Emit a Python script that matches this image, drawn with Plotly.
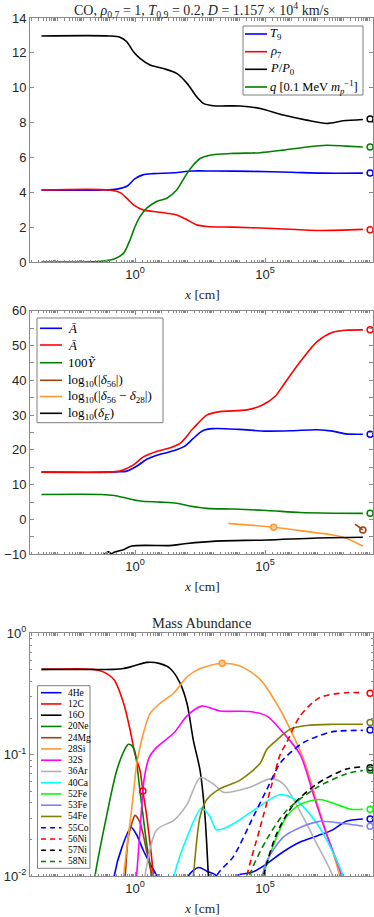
import numpy as np
import plotly.graph_objects as go

W, H = 374, 917
ML, MR = 30, 1

# ---------------- data (x given as log10 of x [cm]) ----------------
# Panel 1
lx_T9 = [-3.6, -1.2, -0.7, -0.3, 0.0, 0.3, 0.7, 1.5, 2.2, 3.0, 4.5, 6.0, 7.2, 8.76]
T9 = [4.13, 4.13, 4.18, 4.36, 4.78, 5.0, 5.07, 5.12, 5.22, 5.22, 5.2, 5.15, 5.1, 5.1]
lx_rho = [-3.6, -1.0, -0.58, -0.32, -0.06, 0.32, 0.71, 1.22, 1.6, 2.0, 2.37, 2.76, 3.78, 5.06, 7.0, 8.76]
rho7 = [4.13, 4.13, 3.98, 3.66, 3.28, 2.99, 2.9, 2.8, 2.7, 2.42, 2.13, 2.04, 2.0, 1.94, 1.81, 1.87]
lx_P = [-3.6, -1.0, -0.58, -0.32, -0.06, 0.19, 0.58, 1.09, 1.6, 2.0, 2.37, 2.63, 3.0, 4.04, 4.81, 5.7, 6.6, 7.37, 8.0, 8.76]
PP0 = [12.97, 12.97, 12.9, 12.64, 12.06, 11.68, 11.3, 11.1, 10.82, 10.25, 9.48, 9.1, 8.97, 8.95, 8.81, 8.43, 8.14, 7.95, 8.1, 8.18]
lx_q = [-3.6, -1.6, -1.3, -0.8, -0.44, -0.19, 0.0, 0.19, 0.45, 0.83, 1.22, 1.6, 1.92, 2.24, 2.5, 2.88, 3.78, 4.81, 5.7, 6.6, 7.37, 8.1, 8.76]
q = [0.0, 0.01, 0.04, 0.17, 0.51, 1.28, 2.04, 2.6, 3.09, 3.47, 3.66, 4.13, 4.9, 5.56, 5.94, 6.13, 6.23, 6.27, 6.42, 6.6, 6.7, 6.65, 6.6]
end1 = {"T9": 5.1, "rho7": 1.85, "PP0": 8.2, "q": 6.6}

# Panel 2
lx_Ab = [-3.6, -1.0, -0.6, -0.32, 0.06, 0.45, 1.0, 1.5, 1.9, 2.24, 2.6, 3.0, 4.0, 5.0, 6.0, 7.0, 7.6, 8.1, 8.76]
Abar_b = [13.6, 13.6, 13.7, 13.9, 15.3, 17.3, 18.8, 19.8, 21.0, 23.3, 25.5, 26.1, 25.9, 25.4, 25.5, 25.8, 25.4, 24.6, 24.5]
lx_Ar = [-3.6, -1.0, -0.6, -0.44, -0.06, 0.32, 0.8, 1.22, 1.73, 2.24, 2.76, 3.27, 4.3, 4.9, 5.4, 5.7, 6.35, 7.0, 7.6, 8.1, 8.76]
Abar_r = [13.6, 13.6, 13.9, 14.3, 15.7, 18.0, 19.5, 20.3, 21.9, 26.2, 30.0, 31.0, 31.5, 32.9, 35.5, 38.6, 45.3, 51.1, 53.8, 54.4, 54.5]
lx_Y = [-3.6, -1.3, -0.8, -0.32, 0.2, 0.96, 1.6, 2.1, 2.76, 3.78, 5.06, 6.35, 7.6, 8.76]
Y100 = [7.2, 7.2, 6.9, 6.1, 5.3, 5.0, 4.66, 3.9, 3.2, 3.0, 2.6, 2.0, 1.8, 1.75]
lx_d56 = [8.46, 8.76]
d56 = [-1.3, -3.0]
lx_d5628 = [3.59, 5.33, 6.35, 7.6, 8.1, 8.4, 8.76]
d5628 = [-1.1, -2.24, -3.2, -4.45, -5.3, -6.3, -7.6]
lx_dE = [-1.22, -1.03, -0.9, -0.8, -0.45, -0.13, 1.3, 1.6, 2.0, 3.1, 5.06, 7.0, 8.76]
dE = [-10.3, -9.3, -9.8, -9.4, -8.7, -7.6, -7.5, -7.3, -6.9, -6.2, -5.9, -5.3, -5.1]
end2 = {"Ab": 24.5, "Ar": 54.5, "Y": 1.8}
mark2 = {"d56": (8.76, -3.0), "d5628": (5.33, -2.24)}

# Panel 3: log10 of mass fraction
iso_names = ["4He", "12C", "16O", "20Ne", "24Mg", "28Si", "32S", "36Ar", "40Ca",
             "52Fe", "53Fe", "54Fe", "55Co", "56Ni", "57Ni", "58Ni"]
lx_He4 = [-1.0, -0.8, -0.5, -0.15, 0.06, 0.32, 0.58, 0.83, 1.2, 1.7, 2.05, 2.44, 2.76, 3.14, 3.5, 3.9, 4.5, 5.06, 5.7, 6.35, 7.0, 7.6, 8.1, 8.76]
ly_He4 = [-2.6, -2.0, -1.76, -1.6, -1.66, -1.79, -1.9, -2.0, -2.4, -2.4, -2.0, -1.93, -1.96, -2.0, -2.3, -2.0, -1.97, -1.9, -1.8, -1.72, -1.67, -1.62, -1.55, -1.53]
lx_C12 = [-3.6, -1.6, -1.2, -0.8, -0.44, -0.19, 0.0, 0.19, 0.3, 0.45, 0.71, 0.85]
ly_C12 = [-0.297, -0.297, -0.32, -0.385, -0.577, -0.797, -1.0, -1.13, -1.3, -1.51, -2.0, -2.4]
lx_O16 = [-3.6, -0.8, -0.44, -0.06, 0.45, 0.96, 1.35, 1.73, 2.0, 2.24, 2.5, 2.69, 2.82, 2.95]
ly_O16 = [-0.297, -0.297, -0.29, -0.27, -0.24, -0.25, -0.29, -0.41, -0.58, -0.88, -1.13, -1.51, -2.0, -2.5]
lx_Ne20 = [-1.8, -1.54, -1.1, -0.7, -0.38, -0.26, -0.1, 0.0, 0.19, 0.45, 0.64, 0.8]
ly_Ne20 = [-2.5, -2.0, -1.51, -1.127, -0.95, -0.915, -0.93, -0.98, -1.3, -1.74, -2.0, -2.4]
lx_Mg24 = [-0.55, -0.38, -0.26, -0.1, 0.0, 0.19, 0.45, 0.64, 0.8]
ly_Mg24 = [-2.4, -2.0, -1.68, -1.55, -1.5, -1.56, -1.8, -2.0, -2.4]
lx_Si28 = [-0.6, -0.44, -0.12, 0.06, 0.13, 0.32, 0.58, 0.96, 1.5, 2.0, 2.5, 3.35, 4.04, 4.81, 5.58, 6.1, 6.41, 6.6, 7.1, 7.6, 7.87, 8.1]
ly_Si28 = [-2.5, -2.0, -1.43, -1.08, -1.0, -0.824, -0.66, -0.577, -0.49, -0.358, -0.29, -0.247, -0.27, -0.38, -0.63, -0.85, -1.0, -1.11, -1.47, -1.8, -2.0, -2.3]
lx_S32 = [-0.1, 0.06, 0.2, 0.35, 0.55, 0.83, 1.5, 2.0, 2.56, 3.27, 4.4, 5.06, 5.7, 6.35, 6.86, 7.37, 7.95, 8.2]
ly_S32 = [-2.5, -2.0, -1.6, -1.2, -1.02, -0.94, -0.82, -0.68, -0.6, -0.64, -0.645, -0.68, -0.82, -1.0, -1.33, -1.66, -2.0, -2.3]
lx_Ar36 = [0.2, 0.38, 0.83, 1.5, 2.0, 2.5, 3.0, 3.4, 4.4, 5.2, 5.7, 6.35, 7.0, 7.6, 7.9]
ly_Ar36 = [-2.4, -2.0, -1.62, -1.54, -1.41, -1.19, -1.24, -1.31, -1.27, -1.2, -1.24, -1.47, -1.74, -2.0, -2.3]
lx_Ca40 = [1.2, 1.5, 2.0, 2.56, 2.88, 3.14, 3.78, 4.55, 5.58, 6.22, 7.0, 7.6, 8.0, 8.2]
ly_Ca40 = [-2.4, -2.0, -1.68, -1.44, -1.51, -1.62, -1.57, -1.46, -1.33, -1.38, -1.57, -1.8, -2.0, -2.3]
lx_Fe52 = [4.7, 4.94, 5.33, 5.83, 6.35, 7.1, 7.87, 8.3, 8.76]
ly_Fe52 = [-2.4, -2.0, -1.74, -1.51, -1.41, -1.37, -1.42, -1.45, -1.45]
lx_Fe53 = [4.7, 4.85, 5.06, 5.7, 6.35, 7.1, 8.1, 8.76]
ly_Fe53 = [-2.4, -2.05, -1.88, -1.68, -1.6, -1.55, -1.57, -1.59]
lx_Fe54 = [2.0, 2.24, 2.5, 2.76, 3.27, 4.04, 4.81, 5.06, 5.45, 5.96, 6.6, 7.6, 8.76]
ly_Fe54 = [-2.5, -2.0, -1.51, -1.37, -1.28, -1.21, -1.07, -0.96, -0.88, -0.79, -0.76, -0.75, -0.75]
lx_Co55 = [2.9, 3.14, 3.78, 4.55, 5.06, 5.58, 6.1, 6.48, 7.0, 7.6, 8.76]
ly_Co55 = [-2.4, -2.0, -1.84, -1.51, -1.29, -1.07, -0.96, -0.9, -0.85, -0.81, -0.8]
lx_Ni56 = [4.0, 4.3, 4.81, 5.33, 5.58, 5.83, 6.35, 7.1, 8.1, 8.76]
ly_Ni56 = [-2.4, -2.0, -1.6, -1.19, -1.0, -0.9, -0.68, -0.53, -0.49, -0.49]
lx_Ni57 = [4.6, 4.94, 5.45, 6.1, 7.0, 8.1, 8.76]
ly_Ni57 = [-2.4, -2.0, -1.65, -1.41, -1.24, -1.12, -1.1]
lx_Ni58 = [4.1, 4.4, 5.06, 5.83, 7.0, 8.1, 8.76]
ly_Ni58 = [-2.4, -2.0, -1.7, -1.46, -1.27, -1.16, -1.13]
end3 = {"4He": -1.53, "52Fe": -1.45, "53Fe": -1.59, "54Fe": -0.735, "55Co": -0.797,
        "56Ni": -0.495, "57Ni": -1.108, "58Ni": -1.127}
mark3 = {"12C": (0.3, -1.3), "28Si": (3.35, -0.247)}

X_END = 9.04  # log10 x of end-state circles
XR = [-4.04, 9.15]

# ---------------- styles ----------------
C = dict(blue="#0000FF", red="#FF0000", black="#000000", green="#008000",
         brown="#A0410D", orange="#FF9933", magenta="#FF00FF", grey="#B3B3B3",
         cyan="#00FFFF", lime="#00FF00", peri="#8080FF", olive="#808000")
iso_style = {
    "4He": (C["blue"], "solid"), "12C": (C["red"], "solid"), "16O": (C["black"], "solid"),
    "20Ne": (C["green"], "solid"), "24Mg": (C["brown"], "solid"), "28Si": (C["orange"], "solid"),
    "32S": (C["magenta"], "solid"), "36Ar": (C["grey"], "solid"), "40Ca": (C["cyan"], "solid"),
    "52Fe": (C["lime"], "solid"), "53Fe": (C["peri"], "solid"), "54Fe": (C["olive"], "solid"),
    "55Co": (C["blue"], "6px,4px"), "56Ni": (C["red"], "6px,4px"), "57Ni": (C["black"], "6px,4px"),
    "58Ni": (C["green"], "6px,4px"),
}
iso_data = {
    "4He": (lx_He4, ly_He4), "12C": (lx_C12, ly_C12), "16O": (lx_O16, ly_O16),
    "20Ne": (lx_Ne20, ly_Ne20), "24Mg": (lx_Mg24, ly_Mg24), "28Si": (lx_Si28, ly_Si28),
    "32S": (lx_S32, ly_S32), "36Ar": (lx_Ar36, ly_Ar36), "40Ca": (lx_Ca40, ly_Ca40),
    "52Fe": (lx_Fe52, ly_Fe52), "53Fe": (lx_Fe53, ly_Fe53), "54Fe": (lx_Fe54, ly_Fe54),
    "55Co": (lx_Co55, ly_Co55), "56Ni": (lx_Ni56, ly_Ni56), "57Ni": (lx_Ni57, ly_Ni57),
    "58Ni": (lx_Ni58, ly_Ni58),
}
LW = 1.6
SERIF = "Liberation Serif, Times New Roman, serif"
SANS = "Liberation Sans, Arial, sans-serif"


def px2x(px):
    return (px - ML) / (W - ML - MR)


def py2y(py):
    return 1 - py / H


fig = go.Figure()


def line(lx, y, color, xa, ya, dash="solid", log_y=False):
    xs = 10 ** np.array(lx, dtype=float)
    ys = 10 ** np.array(y, dtype=float) if log_y else np.array(y, dtype=float)
    fig.add_trace(go.Scatter(x=xs, y=ys, mode="lines", xaxis=xa, yaxis=ya, showlegend=False,
                             line=dict(color=color, width=LW, dash=dash, shape="spline", smoothing=0.8),
                             hoverinfo="skip"))


def marker(lx, y, color, xa, ya, log_y=False, fill=None):
    xs = [10 ** lx]
    ys = [10 ** y] if log_y else [y]
    fig.add_trace(go.Scatter(x=xs, y=ys, mode="markers", xaxis=xa, yaxis=ya, showlegend=False,
                             cliponaxis=False,
                             marker=dict(symbol="circle" if fill else "circle-open", size=6,
                                         color=fill if fill else color,
                                         line=dict(color=color, width=1.5)),
                             hoverinfo="skip"))


# Panel 1
line(lx_T9, T9, C["blue"], "x", "y")
line(lx_rho, rho7, C["red"], "x", "y")
line(lx_P, PP0, C["black"], "x", "y")
line(lx_q, q, C["green"], "x", "y")
for k, col in [("T9", C["blue"]), ("rho7", C["red"]), ("PP0", C["black"]), ("q", C["green"])]:
    marker(X_END, end1[k], col, "x", "y")

# Panel 2
line(lx_Ab, Abar_b, C["blue"], "x2", "y2")
line(lx_Ar, Abar_r, C["red"], "x2", "y2")
line(lx_Y, Y100, C["green"], "x2", "y2")
line(lx_d56, d56, C["brown"], "x2", "y2")
line(lx_d5628, d5628, C["orange"], "x2", "y2")
line(lx_dE, dE, C["black"], "x2", "y2")
marker(X_END, end2["Ab"], C["blue"], "x2", "y2")
marker(X_END, end2["Ar"], C["red"], "x2", "y2")
marker(X_END, end2["Y"], C["green"], "x2", "y2")
marker(*mark2["d56"], C["brown"], "x2", "y2")
marker(*mark2["d5628"], C["orange"], "x2", "y2", fill="#FFC890")

# Panel 3
for nm in iso_names:
    lx, ly = iso_data[nm]
    col, dash = iso_style[nm]
    line(lx, ly, col, "x3", "y3", dash=dash, log_y=True)
for nm, v in end3.items():
    marker(X_END, v, iso_style[nm][0], "x3", "y3", log_y=True)
marker(*mark3["12C"], C["red"], "x3", "y3", log_y=True)
marker(*mark3["28Si"], C["orange"], "x3", "y3", log_y=True, fill="#FFC890")

# ---------------- axes ----------------
AX_COL = "#8a8a8a"
TICK_FONT = dict(family=SANS, size=13, color="#262626")
xt_vals = [1.0, 1e5]
xt_text = ["10<sup>0</sup>", "10<sup>5</sup>"]
x_minor = [m * 10.0 ** d for d in range(-5, 10) for m in range(1, 10) if not (m == 1 and d in (0, 5))]

def xaxis(domain_anchor):
    return dict(type="log", range=XR, domain=[0, 1], anchor=domain_anchor,
                showline=True, linecolor=AX_COL, linewidth=1, mirror="allticks",
                ticks="inside", ticklen=4, tickcolor=AX_COL, tickvals=xt_vals, ticktext=xt_text,
                tickfont=TICK_FONT, showgrid=False, zeroline=False, automargin=False,
                minor=dict(tickvals=x_minor, ticks="inside", ticklen=2.5, tickcolor=AX_COL, showgrid=False))

dom1 = [py2y(262), py2y(18)]
dom2 = [py2y(554.3), py2y(310.7)]
dom3 = [py2y(876), py2y(633.3)]

yax_common = dict(showline=True, linecolor=AX_COL, linewidth=1, mirror="allticks",
                  ticks="inside", ticklen=4, tickcolor=AX_COL, tickfont=TICK_FONT,
                  showgrid=False, zeroline=False, automargin=False)

fig.update_layout(
    width=W, height=H, margin=dict(l=ML, r=MR, t=0, b=0),
    paper_bgcolor="white", plot_bgcolor="white", showlegend=False,
    xaxis=dict(**xaxis("y")),
    yaxis=dict(domain=dom1, range=[0, 14], tickvals=list(range(0, 15, 2)), anchor="x", **yax_common),
    xaxis2=dict(**xaxis("y2")),
    yaxis2=dict(domain=dom2, range=[-10, 60], tickvals=list(range(-10, 61, 10)), anchor="x2",
                minor=dict(tickvals=list(range(-5, 60, 10)), ticks="inside", ticklen=4, tickcolor=AX_COL),
                **yax_common),
    xaxis3=dict(**xaxis("y3")),
    yaxis3=dict(domain=dom3, type="log", range=[-2, 0], tickvals=[0.01, 0.1, 1],
                ticktext=["10<sup>-2</sup>", "10<sup>-1</sup>", "10<sup>0</sup>"], anchor="x3",
                minor=dict(tickvals=[m * 10.0 ** d for d in (-2, -1) for m in range(2, 10)],
                           ticks="inside", ticklen=2, tickcolor=AX_COL),
                **yax_common),
)

# ---------------- titles ----------------
ann = []
shapes = []
def text(px, py, s, size=13, anchor="center", family=SERIF, color="#262626"):
    ann.append(dict(x=px2x(px), y=py2y(py), xref="paper", yref="paper", text=s, showarrow=False,
                    xanchor=anchor, yanchor="middle", font=dict(family=family, size=size, color=color)))

text(201.5, 10, "CO, <i>ρ</i><sub>0,7</sub> = 1, <i>T</i><sub>0,9</sub> = 0.2, <i>D</i> = 1.157 × 10<sup>4</sup> km/s", 14)
text(201.5, 622.5, "Mass Abundance", 14.5)
for py in (294, 586, 908):
    text(201.5, py, "<i>x</i> [cm]", 13.5)

# ---------------- custom legends ----------------
def legend(box, entries, rows, line_x, text_x, size):
    x0, y0, x1, y1 = box
    shapes.append(dict(type="rect", xref="paper", yref="paper", x0=px2x(x0), x1=px2x(x1),
                       y0=py2y(y1), y1=py2y(y0), line=dict(color="#7f7f7f", width=1),
                       fillcolor="white", layer="above"))
    for (label, col, dash), ry in zip(entries, rows):
        shapes.append(dict(type="line", xref="paper", yref="paper", x0=px2x(line_x[0]), x1=px2x(line_x[1]),
                           y0=py2y(ry), y1=py2y(ry), line=dict(color=col, width=LW, dash=dash), layer="above"))
        text(text_x, ry, label, size, anchor="left", color="#000000")

leg1 = [("<i>T</i><sub>9</sub>", C["blue"], "solid"),
        ("<i>ρ</i><sub>7</sub>", C["red"], "solid"),
        ("<i>P</i>/<i>P</i><sub>0</sub>", C["black"], "solid"),
        ("<i>q</i> [0.1 MeV <i>m</i><sub><i>p</i></sub><sup>−1</sup>]", C["green"], "solid")]
legend((243, 26, 363, 95), leg1, [34, 51.7, 69.3, 87], (245, 267), 268, 12.5)

leg2 = [("<i>Ā</i>", C["blue"], "solid"),
        ("<i>Ā</i>", C["red"], "solid"),
        ("100<i>Ỹ</i>", C["green"], "solid"),
        ("log<sub>10</sub>(|<i>δ</i><sub>56</sub>|)", C["brown"], "solid"),
        ("log<sub>10</sub>(|<i>δ</i><sub>56</sub> − <i>δ</i><sub>28</sub>|)", C["orange"], "solid"),
        ("log<sub>10</sub>(<i>δ</i><sub><i>E</i></sub>)", C["black"], "solid")]
legend((37, 318, 163, 422.7), leg2, [328.3, 345, 362.7, 380.3, 396.5, 413.3], (40, 62), 65.5, 13)

leg3 = [(nm, iso_style[nm][0], iso_style[nm][1].replace("6px,4px", "5px,4px")) for nm in iso_names]
rows3 = [692.7 + i * 11.25 for i in range(len(iso_names))]
legend((37.5, 685.7, 90, 868.3), leg3, rows3, (41, 61.5), 65.5, 9.5)

fig.update_layout(annotations=ann, shapes=shapes)
fig.write_html("out.html", config={"displayModeBar": False},
               post_script="document.body.style.margin='0';document.body.style.padding='0';"
                           "document.body.style.overflow='hidden';")
